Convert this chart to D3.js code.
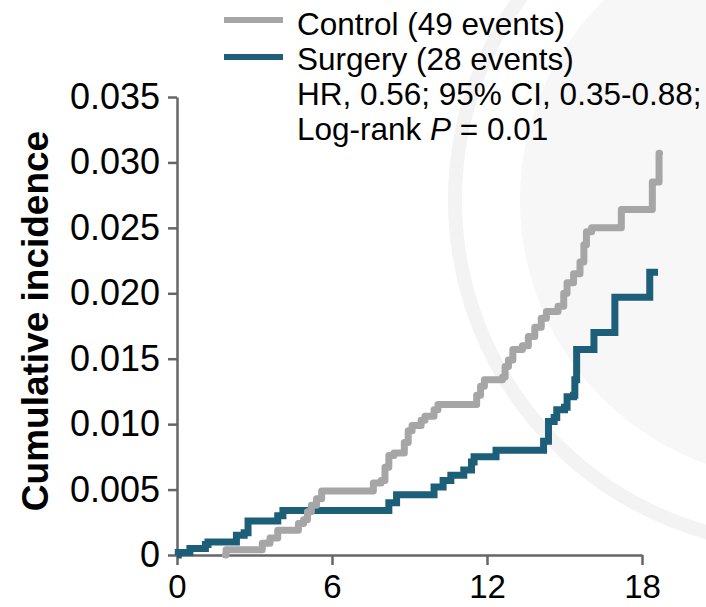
<!DOCTYPE html>
<html>
<head>
<meta charset="utf-8">
<script src="https://cdn.jsdelivr.net/npm/d3@7"></script>
<style>
  html, body { margin: 0; padding: 0; background: #fff; }
  svg { display: block; font-family: "Liberation Sans", Arial, sans-serif; }
</style>
</head>
<body>
<div id="chart"></div>
<script>
// cumulative incidence (months, incidence)
var controlMonths = [1.87, 1.9, 3.3, 3.6, 3.9, 4.7, 4.9, 5.05, 5.2, 5.4,
    5.6, 7.6, 7.9, 8.05, 8.2, 8.4, 8.8, 8.95, 9.1, 9.45,
    9.6, 9.95, 10.1, 11.6, 11.75, 11.9, 12.6, 12.7, 12.83, 13.0,
    13.37, 13.6, 13.85, 14.1, 14.3, 14.75, 14.97, 15.1, 15.35, 15.6,
    15.75, 15.85, 16.05, 17.2, 18.4, 18.66, 18.68];
var controlIncidence = [0, 0.0004, 0.0009, 0.0013, 0.0019, 0.0024, 0.0027, 0.0033, 0.0038, 0.0043,
    0.0049, 0.0055, 0.0057, 0.0067, 0.0076, 0.0078, 0.0086, 0.0095, 0.0099, 0.0103,
    0.0106, 0.0111, 0.0115, 0.0122, 0.0129, 0.0134, 0.0136, 0.0144, 0.0149, 0.0157,
    0.0160, 0.0167, 0.0174, 0.0181, 0.0186, 0.0190, 0.0200, 0.0208, 0.0215, 0.0224,
    0.0237, 0.0247, 0.0250, 0.0264, 0.0285, 0.0307, 0.0307];

var surgeryMonths = [0, 0.05, 0.5, 1.1, 1.2, 2.3, 2.6, 2.75, 3.9, 4.1,
    8.2, 8.5, 9.95, 10.3, 10.6, 11.1, 11.4, 11.5, 12.35, 14.19,
    14.38, 14.6, 14.7, 15.0, 15.1, 15.35, 15.4, 15.47, 16.14, 16.95,
    18.3, 18.62];
var surgeryIncidence = [0, 0.0002, 0.0005, 0.0008, 0.0010, 0.0015, 0.0017, 0.0026, 0.0030, 0.0034,
    0.0040, 0.0046, 0.0052, 0.0057, 0.0061, 0.0065, 0.0071, 0.0075, 0.0080, 0.0087,
    0.0102, 0.0105, 0.0111, 0.0113, 0.0121, 0.0122, 0.0134, 0.0157, 0.0170, 0.0197,
    0.0216, 0.0216];

var xTicks = [0, 6, 12, 18];
var yTicks = [0, 0.005, 0.010, 0.015, 0.020, 0.025, 0.030, 0.035];

var legendLabels = ["Control (49 events)", "Surgery (28 events)"];
var statLine1 = "HR, 0.56; 95% CI, 0.35-0.88;";

var W = 706, H = 607;
var GRAY = "#a6a6a6", BLUE = "#1d5e79", AXIS = "#666";

var svg = d3.select("#chart").append("svg")
    .attr("width", W)
    .attr("height", H);

// faint watermark in the background
var wm = svg.append("g").attr("class", "watermark");
wm.append("circle")
    .attr("cx", 800).attr("cy", 200).attr("r", 280)
    .attr("fill", "#f7f7f7");
wm.append("circle")
    .attr("cx", 800).attr("cy", 200).attr("r", 345)
    .attr("fill", "none")
    .attr("stroke", "#f3f3f3")
    .attr("stroke-width", 14);

var x = d3.scaleLinear().domain([0, 18]).range([177, 642]);
var y = d3.scaleLinear().domain([0, 0.035]).range([555, 97]);

var yFmt = function (d) { return d === 0 ? "0" : d3.format(".3f")(d); };

var xAxis = svg.append("g")
    .attr("transform", "translate(0," + y(0) + ")")
    .call(d3.axisBottom(x).tickValues(xTicks).tickSize(10).tickSizeOuter(0).tickPadding(10));

var yAxis = svg.append("g")
    .attr("transform", "translate(" + x(0) + ",0)")
    .call(d3.axisLeft(y).tickValues(yTicks).tickFormat(yFmt).tickSize(9).tickSizeOuter(0).tickPadding(8));

[xAxis, yAxis].forEach(function (ax) {
    ax.select(".domain").attr("stroke", AXIS).attr("stroke-width", 2.5);
    ax.selectAll(".tick line").attr("stroke", AXIS).attr("stroke-width", 2.5);
    ax.selectAll(".tick text")
        .attr("fill", "#000")
        .style("font-family", "'Liberation Sans', Arial, sans-serif");
});
xAxis.selectAll(".tick text").style("font-size", "33px");
yAxis.selectAll(".tick text").style("font-size", "36px");

svg.append("text")
    .attr("transform", "translate(48,321) rotate(-90)")
    .attr("text-anchor", "middle")
    .style("font-size", "37px")
    .style("font-weight", "bold")
    .text("Cumulative incidence");

var line = d3.line()
    .x(function (d) { return x(d[0]); })
    .y(function (d) { return y(d[1]); })
    .curve(d3.curveStepAfter);

svg.append("path")
    .datum(d3.zip(surgeryMonths, surgeryIncidence))
    .attr("d", line)
    .attr("fill", "none")
    .attr("stroke", BLUE)
    .attr("stroke-width", 7);

svg.append("path")
    .datum(d3.zip(controlMonths, controlIncidence))
    .attr("d", line)
    .attr("fill", "none")
    .attr("stroke", GRAY)
    .attr("stroke-width", 7)
    .attr("stroke-linejoin", "round")
    .attr("stroke-linecap", "round");

// legend
var legend = svg.append("g").style("font-size", "31.5px");
var legendColors = [GRAY, BLUE];
legendLabels.forEach(function (lab, i) {
    legend.append("line")
        .attr("x1", 224).attr("x2", 283)
        .attr("y1", 20 + i * 37).attr("y2", 20 + i * 37)
        .attr("stroke", legendColors[i])
        .attr("stroke-width", 6);
    legend.append("text")
        .attr("x", 297).attr("y", 35 + i * 35)
        .text(lab);
});
legend.append("text")
    .attr("x", 297).attr("y", 105)
    .text(statLine1);
var lr = legend.append("text")
    .attr("x", 297).attr("y", 140);
lr.append("tspan").text("Log-rank ");
lr.append("tspan").style("font-style", "italic").text("P");
lr.append("tspan").text(" = 0.01");
</script>
</body>
</html>
